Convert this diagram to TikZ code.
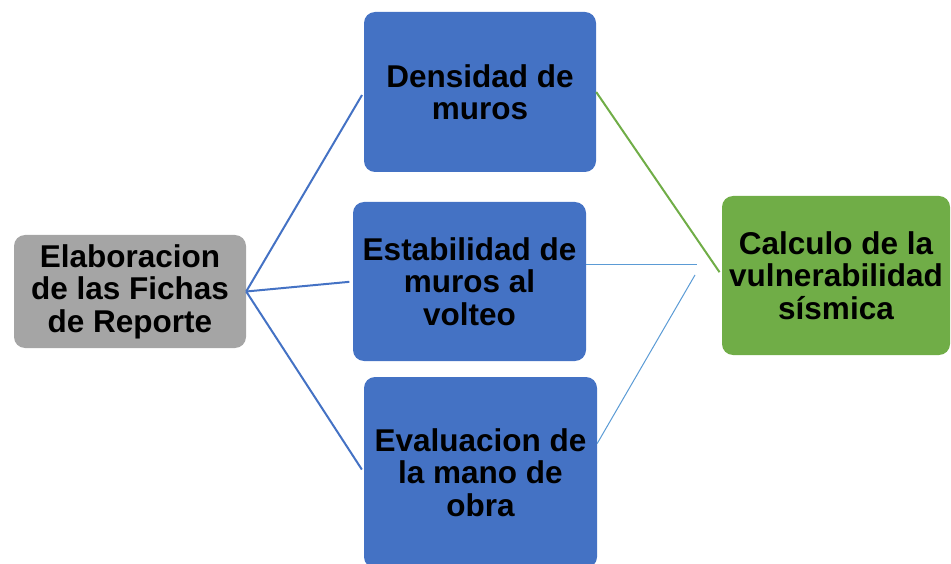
\documentclass[tikz,border=0pt]{standalone}
\usepackage{fontspec}
\setmainfont{Liberation Sans}

\definecolor{boxblue}{HTML}{4472C4}
\definecolor{boxgray}{HTML}{A5A5A5}
\definecolor{boxgreen}{HTML}{70AD47}
\definecolor{lightblue}{HTML}{5B9BD5}

\begin{document}
\begin{tikzpicture}[x=1pt,y=-1pt,
	box/.style={rounded corners=11pt, align=center, inner sep=0pt, font=\fontsize{31.5}{32.5}\selectfont\bfseries},
	link/.style={boxblue, line width=2pt, shorten >=3.5pt},
	thinlink/.style={lightblue, line width=1pt}]

	\useasboundingbox (0,0) rectangle (951,564);

	\node(Fic) [box, fill=boxgray, minimum width=232, minimum height=113] at (130,291.5) {Elaboracion\\de las Fichas\\de Reporte};
	\node(Den) [box, fill=boxblue, minimum width=232, minimum height=160] at (480,92) {Densidad de\\muros};
	\node(Est) [box, fill=boxblue, minimum width=233, minimum height=159] at (469.5,281.5) {Estabilidad de\\muros al\\volteo};
	\node(Eva) [box, fill=boxblue, minimum width=233, minimum height=191] at (480.5,472.5) {Evaluacion de\\la mano de\\obra};
	\node(Cal) [box, fill=boxgreen, minimum width=228, minimum height=159] at (836,275.5) {Calculo de la\\vulnerabilidad\\sísmica};

	\coordinate (J1) at (697,265);
	\coordinate (J2) at (695,275);

	\draw[link] (Fic.east) -- (Den.west);
	\draw[link] (Fic.east) -- (Est.west);
	\draw[link] (Fic.east) -- (Eva.west);
	\draw[boxgreen, line width=2pt, shorten >=4pt] (Den.east) -- (Cal.west);
	\draw[thinlink] (Est.east |- J1) -- (J1);
	\draw[thinlink] ([yshift=29pt]Eva.east) -- (J2);

\end{tikzpicture}
\end{document}
